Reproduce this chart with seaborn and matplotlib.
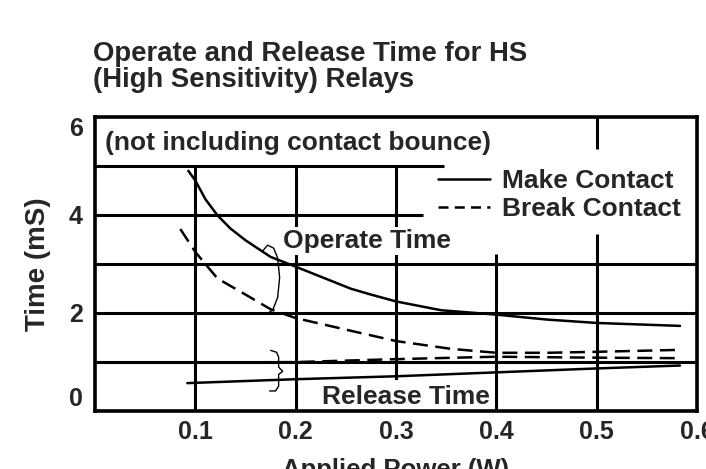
import matplotlib
matplotlib.use("Agg")
import matplotlib.pyplot as plt
from matplotlib.lines import Line2D
import pandas as pd
import seaborn as sns

# ---- data ----
make_operate_power = [0.093, 0.100, 0.110, 0.122, 0.135, 0.150, 0.175, 0.200, 0.255, 0.275, 0.300, 0.345, 0.400, 0.450, 0.500, 0.583]
make_operate_time = [4.90, 4.70, 4.32, 3.99, 3.72, 3.48, 3.14, 2.94, 2.49, 2.37, 2.23, 2.05, 1.96, 1.86, 1.79, 1.73]
break_operate_power = [0.085, 0.100, 0.122, 0.150, 0.175, 0.200, 0.255, 0.300, 0.355, 0.400, 0.450, 0.500, 0.583]
break_operate_time = [3.71, 3.24, 2.70, 2.37, 2.07, 1.89, 1.63, 1.42, 1.26, 1.18, 1.18, 1.20, 1.24]
release_power = [0.092, 0.200, 0.300, 0.400, 0.500, 0.583]
make_release_time = [0.56, 0.64, 0.70, 0.78, 0.86, 0.92]
break_release_time = [0.98, 0.99, 1.05, 1.10, 1.08, 1.07]

contact_labels = ["Make Contact", "Break Contact"]
x_ticks = [0.1, 0.2, 0.3, 0.4, 0.5, 0.6]
y_ticks = [0, 2, 4, 6]

title_text = "Operate and Release Time for HS\n(High Sensitivity) Relays"
note_text = "(not including contact bounce)"

# ---- long-form table ----
frames = []
for p, t, c, ph in [
    (make_operate_power, make_operate_time, contact_labels[0], "Operate"),
    (break_operate_power, break_operate_time, contact_labels[1], "Operate"),
    (release_power, make_release_time, contact_labels[0], "Release"),
    (release_power, break_release_time, contact_labels[1], "Release"),
]:
    frames.append(pd.DataFrame({"Power": p, "Time": t, "Contact": c, "Phase": ph}))
df = pd.concat(frames, ignore_index=True)

sns.set_theme(style="white")
plt.rcParams["font.family"] = ["Liberation Sans", "DejaVu Sans"]
plt.rcParams["font.weight"] = "bold"

fig = plt.figure(figsize=(7.06, 4.69), dpi=100)
ax = fig.add_axes([0.1346, 0.1247, 0.8527, 0.6258])

# grid segments (styling)
glw = 2.2
ax.hlines([1, 2, 3], 0, 0.6, color="black", lw=glw, zorder=1)
ax.hlines([4], 0, 0.327, color="black", lw=glw, zorder=1)
ax.hlines([5], 0, 0.348, color="black", lw=glw, zorder=1)
ax.vlines([0.1, 0.2, 0.3], 0, 5, color="black", lw=glw, zorder=1)
ax.vlines([0.4], 0, 3.2, color="black", lw=glw, zorder=1)
ax.vlines([0.5], 0, 3.6, color="black", lw=glw, zorder=1)
ax.vlines([0.5], 5.35, 6, color="black", lw=glw, zorder=1)

sns.lineplot(
    data=df, x="Power", y="Time", style="Contact", units="Phase",
    estimator=None, sort=False, color="black", lw=1.8,
    style_order=contact_labels,
    dashes={contact_labels[0]: "", contact_labels[1]: (6, 3)},
    legend=False, ax=ax, zorder=3,
)

# bracket annotations
op_bx = [0.167, 0.172, 0.178, 0.182, 0.184, 0.182, 0.177, 0.172]
op_by = [3.26, 3.38, 3.32, 3.12, 2.72, 2.31, 2.05, 1.99]
ax.plot(op_bx, op_by, color="black", lw=1.0, zorder=3)
rel_bx = [0.175, 0.181, 0.183, 0.183, 0.187, 0.183, 0.183, 0.180, 0.174]
rel_by = [1.23, 1.19, 1.09, 0.89, 0.80, 0.74, 0.50, 0.40, 0.40]
ax.plot(rel_bx, rel_by, color="black", lw=1.0, zorder=3)

white_box = dict(facecolor="white", edgecolor="none", pad=1.5)
ax.text(0.1875, 3.32, "Operate Time", fontsize=19, fontweight="bold",
        va="baseline", ha="left", bbox=white_box, zorder=4)
ax.text(0.226, 0.14, "Release Time", fontsize=19, fontweight="bold",
        va="baseline", ha="left", bbox=dict(facecolor="white", edgecolor="none", pad=3), zorder=4)
ax.text(0.010, 5.32, note_text, fontsize=19, fontweight="bold",
        va="baseline", ha="left", zorder=4)

handles = [Line2D([], [], color="black", lw=1.8),
           Line2D([], [], color="black", lw=1.8, dashes=(4, 2.5))]
ax.legend(handles, contact_labels, loc="upper left", bbox_to_anchor=(0.569, 0.822),
          frameon=False, handlelength=2.0, handletextpad=0.45,
          labelspacing=0.16, borderpad=0, borderaxespad=0,
          prop={"weight": "bold", "size": 19})

ax.set_xlim(0, 0.6)
ax.set_ylim(0, 6)
ax.set_xticks(x_ticks)
ax.set_xticklabels([f"{v:.1f}" for v in x_ticks], fontsize=18, fontweight="bold")
ax.set_yticks(y_ticks)
ax.set_yticklabels([str(v) for v in y_ticks], fontsize=18, fontweight="bold")
ylabs = ax.get_yticklabels()
ylabs[0].set_va("bottom")
ylabs[-1].set_va("top")
ax.tick_params(length=0)
ax.tick_params(axis="y", pad=9)
ax.tick_params(axis="x", pad=7)
ax.set_xlabel("Applied Power (W)", fontsize=18.5, fontweight="bold", labelpad=10)
ax.set_ylabel("Time (mS)", fontsize=20, fontweight="bold", labelpad=13)

for s in ax.spines.values():
    s.set_visible(True)
    s.set_color("black")
    s.set_linewidth(2.6)
    s.set_zorder(6)

fig.text(0.1317, 0.912, title_text, fontsize=19.8, fontweight="bold",
         ha="left", va="top", linespacing=0.98)

fig.savefig("out.png", dpi=100)
